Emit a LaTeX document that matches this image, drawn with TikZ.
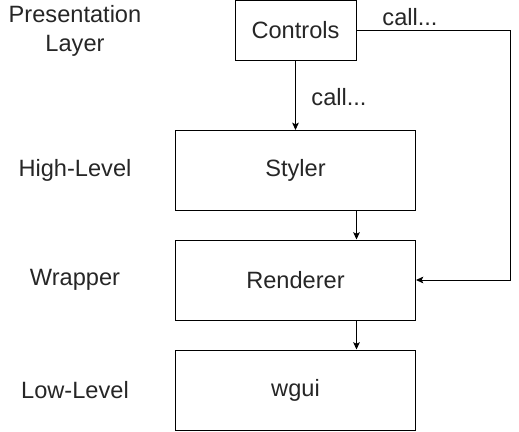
\documentclass[tikz,border=0pt]{standalone}
\usepackage{fontspec}
\setmainfont{Liberation Sans}
\usetikzlibrary{arrows.meta}
\begin{document}
\begin{tikzpicture}[x=0.75pt,y=-0.75pt,
  every node/.style={font=\fontsize{17.7}{21.5}\selectfont, inner sep=0pt, text=black!85},
  box/.style={draw=black, line width=0.75pt, minimum width=180pt, minimum height=60pt},
  conn/.style={line width=0.75pt, -{Stealth[length=5.5pt,width=5pt,inset=1.2pt]}},
  lbl/.style={align=center}]
\useasboundingbox (0,0) rectangle (519,432);
\node[draw=black, line width=0.75pt, minimum width=90.75pt, minimum height=44.6pt] (controls) at (295.5,30.5) {Controls};
\node[box] (styler) at (295.5,170.5) {Styler};
\node[box] (renderer) at (295.5,280) {Renderer};
\node[box] (wgui) at (295.5,390) {wgui};
\node[lbl] (pl) at (75,31) {Presentation\\Layer};
\node[lbl] (hl) at (75,170) {High-Level};
\node[lbl] (wr) at (75,280) {Wrapper};
\node[lbl] (ll) at (75,390) {Low-Level};
\node (c1) at (410,17) {call...};
\node (c2) at (339,97) {call...};
\coordinate (corner1) at (510,30.5);
\draw[conn] (controls.south) -- (styler.north);
\draw[conn] (controls.east) -- (corner1) |- (renderer.east);
\draw[conn] (styler.south -| controls.east) -- (renderer.north -| controls.east);
\draw[conn] (renderer.south -| controls.east) -- (wgui.north -| controls.east);
\end{tikzpicture}
\end{document}
